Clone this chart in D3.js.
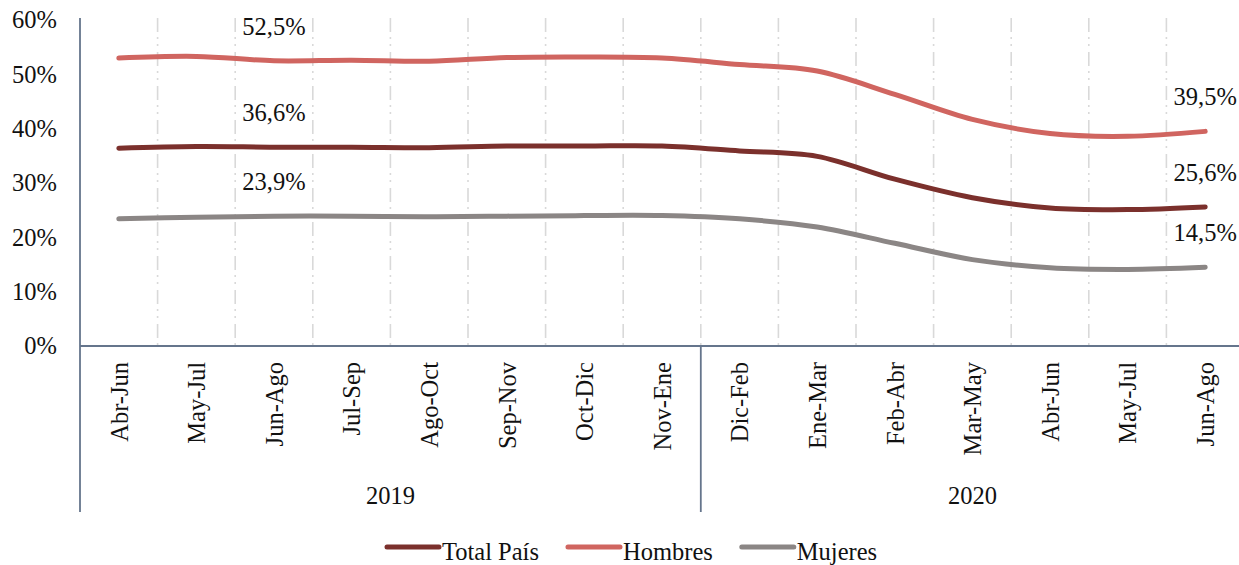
<!DOCTYPE html>
<html>
<head>
<meta charset="utf-8">
<script src="https://cdn.jsdelivr.net/npm/d3@7"></script>
<style>
  html, body { margin: 0; padding: 0; background: #fff; }
  svg { display: block; }
  svg text { font-family: "Liberation Serif", "Times New Roman", Tinos, "DejaVu Serif", serif !important; fill: #111; }
</style>
</head>
<body>
<div id="chart"></div>
<script>
// ---- data ----
const categories = ["Abr-Jun","May-Jul","Jun-Ago","Jul-Sep","Ago-Oct","Sep-Nov","Oct-Dic","Nov-Ene",
                    "Dic-Feb","Ene-Mar","Feb-Abr","Mar-May","Abr-Jun","May-Jul","Jun-Ago"];
const years = ["2019", "2020"];
const yearCounts = [8, 7];
const totalPais = [36.4, 36.7, 36.6, 36.6, 36.5, 36.8, 36.8, 36.8, 35.9, 34.9, 30.7, 27.3, 25.4, 25.1, 25.6];
const hombres   = [53.0, 53.3, 52.5, 52.6, 52.4, 53.1, 53.2, 53.0, 51.8, 50.6, 46.3, 41.7, 39.1, 38.6, 39.5];
const mujeres   = [23.4, 23.7, 23.9, 23.9, 23.8, 23.9, 24.0, 24.0, 23.4, 21.9, 18.9, 15.9, 14.4, 14.1, 14.5];
const yTicks = [0, 10, 20, 30, 40, 50, 60];
const labelIndices = [2, 14];

const series = [
  { name: "Total País", values: totalPais, color: "#7B302C" },
  { name: "Hombres",    values: hombres,   color: "#D06560" },
  { name: "Mujeres",    values: mujeres,   color: "#8B8685" }
];

// ---- layout ----
const W = 1239, H = 565;
const FS = 24.5;
const svg = d3.select("#chart").append("svg").attr("width", W).attr("height", H)
  .attr("font-family", '"Liberation Serif", serif');

const idx = d3.range(categories.length);
const x = d3.scaleBand().domain(idx).range([80, 1244]).padding(0);
const y = d3.scaleLinear().domain([0, 60]).range([346, 20]);
const bw = x.bandwidth();
const cx = i => x(i) + bw / 2;

// vertical gridlines at band boundaries
svg.append("g").selectAll("line")
  .data(d3.range(1, categories.length))
  .join("line")
  .attr("x1", k => x(0) + k * bw).attr("x2", k => x(0) + k * bw)
  .attr("y1", y(60) - 2).attr("y2", y(0))
  .attr("stroke", "#D9D9D9").attr("stroke-width", 1.6)
  .attr("stroke-dasharray", "14,5,2,5,2,6");

// y axis
const yAxis = svg.append("g")
  .attr("transform", `translate(${x(0)},0)`)
  .call(d3.axisLeft(y).tickValues(yTicks).tickFormat(d => d + "%").tickSize(0).tickPadding(23));
yAxis.attr("font-family", null).attr("font-size", null);
yAxis.select(".domain").remove();
yAxis.selectAll("text").style("font-size", FS + "px").attr("fill", "#111");

// x axis labels (rotated)
const xAxis = svg.append("g")
  .attr("transform", `translate(0,${y(0)})`)
  .call(d3.axisBottom(x).tickFormat(i => categories[i]).tickSize(0));
xAxis.attr("font-family", null).attr("font-size", null);
xAxis.select(".domain").remove();
xAxis.selectAll("text")
  .style("font-size", FS + "px").attr("fill", "#111")
  .attr("text-anchor", "end")
  .attr("transform", "rotate(-90)")
  .attr("x", -16).attr("y", 0).attr("dy", "0.36em");

// axis lines
const axisColor = "#65758C";
svg.append("line").attr("x1", x(0)).attr("x2", W).attr("y1", y(0)).attr("y2", y(0))
  .attr("stroke", axisColor).attr("stroke-width", 1.8);
svg.append("line").attr("x1", x(0)).attr("x2", x(0)).attr("y1", y(60) - 2).attr("y2", 512)
  .attr("stroke", axisColor).attr("stroke-width", 1.8);

// year groups
let start = 0;
years.forEach((yr, gi) => {
  const end = start + yearCounts[gi];
  const x0 = x(start), x1 = x(0) + end * bw;
  if (gi > 0) {
    svg.append("line").attr("x1", x0).attr("x2", x0).attr("y1", y(0)).attr("y2", 512)
      .attr("stroke", axisColor).attr("stroke-width", 1.8);
  }
  svg.append("text").attr("x", (x0 + x1) / 2).attr("y", 504)
    .attr("text-anchor", "middle").style("font-size", FS + "px").text(yr);
  start = end;
});

// lines
const line = d3.line()
  .x((d, i) => cx(i))
  .y(d => y(d))
  .curve(d3.curveCatmullRom.alpha(0));

series.forEach(s => {
  svg.append("path").datum(s.values)
    .attr("d", line)
    .attr("fill", "none").attr("stroke", s.color)
    .attr("stroke-width", 5).attr("stroke-linecap", "round").attr("stroke-linejoin", "round");
});

// data labels
const fmt = v => d3.format(".1f")(v).replace(".", ",") + "%";
series.forEach(s => {
  labelIndices.forEach(i => {
    svg.append("text")
      .attr("x", cx(i)).attr("y", y(s.values[i]) - 26)
      .attr("text-anchor", "middle").style("font-size", FS + "px")
      .text(fmt(s.values[i]));
  });
});

// legend
const legend = svg.append("g");
let lx = 387;
series.forEach(s => {
  legend.append("line").attr("x1", lx).attr("x2", lx + 52).attr("y1", 547).attr("y2", 547)
    .attr("stroke", s.color).attr("stroke-width", 5).attr("stroke-linecap", "round");
  const t = legend.append("text").attr("x", lx + 55).attr("y", 560)
    .style("font-size", FS + "px").text(s.name);
  lx += 55 + t.node().getComputedTextLength() + 29;
});
</script>
</body>
</html>
